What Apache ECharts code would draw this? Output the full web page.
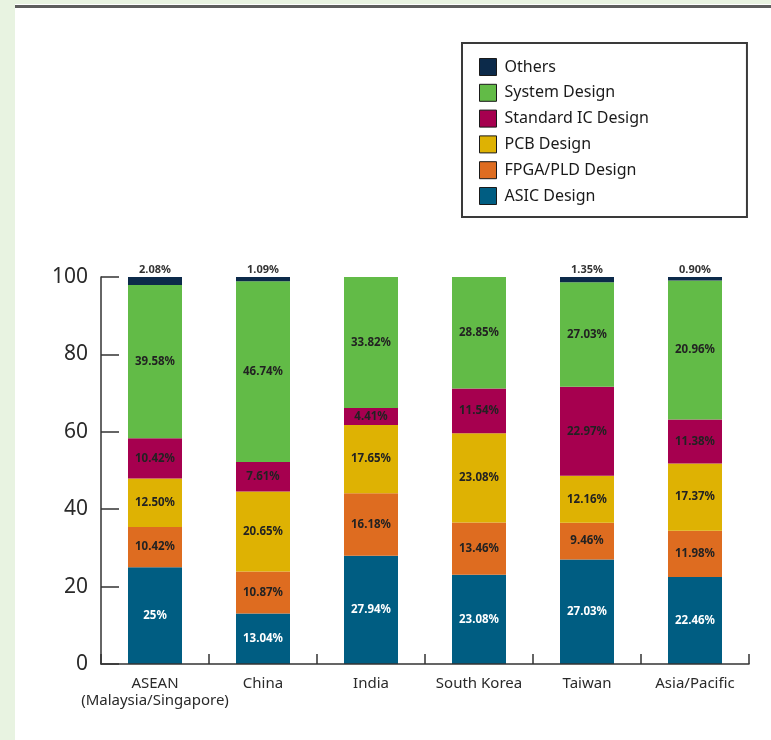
<!DOCTYPE html>
<html>
<head>
<meta charset="utf-8">
<script src="https://cdn.jsdelivr.net/npm/echarts@6/dist/echarts.min.js"></script>
<style>
  html, body { margin: 0; padding: 0; background: #e8f3e1; }
  #chart { width: 771px; height: 740px; }
</style>
</head>
<body>
<div id="chart"></div>
<script>
// regions along the x axis
const regions = ['ASEAN\n(Malaysia/Singapore)', 'China', 'India', 'South Korea', 'Taiwan', 'Asia/Pacific'];

// shares per design type (percent), bottom to top of each stack
const asicDesign = [25, 13.04, 27.94, 23.08, 27.03, 22.46];
const fpgaDesign = [10.42, 10.87, 16.18, 13.46, 9.46, 11.98];
const pcbDesign = [12.50, 20.65, 17.65, 23.08, 12.16, 17.37];
const stdIcDesign = [10.42, 7.61, 4.41, 11.54, 22.97, 11.38];
const systemDesign = [39.58, 46.74, 33.82, 28.85, 27.03, 35.91];
const others = [2.08, 1.09, 0, 0, 1.35, 0.90];

// system design labels as printed on the chart (the Asia/Pacific one differs from its bar)
const systemPrinted = ['39.58%', '46.74%', '33.82%', '28.85%', '27.03%', '20.96%'];

const yTicks = [0, 20, 40, 60, 80, 100];

const FONT = '"Noto Sans", "DejaVu Sans", sans-serif';

const fmt = (v) => (Number.isInteger(v) ? v : v.toFixed(2)) + '%';

function stackSeries(name, data, color, textColor, formatter) {
  return {
    name,
    type: 'bar',
    stack: 'total',
    data,
    barWidth: 54,
    itemStyle: { color },
    label: {
      show: true,
      position: 'inside',
      color: textColor,
      fontFamily: FONT,
      fontWeight: 'bold',
      fontSize: 11.5,
      formatter: formatter || ((p) => (p.value ? fmt(p.value) : '')),
    },
  };
}

const chart = echarts.init(document.getElementById('chart'), null, { renderer: 'canvas' });

chart.setOption({
  backgroundColor: '#e8f3e1',
  animation: false,
  textStyle: { fontFamily: FONT },
  graphic: [
    { type: 'rect', shape: { x: 15, y: 4, width: 756, height: 736 }, style: { fill: '#ffffff' }, z: -10 },
    { type: 'rect', shape: { x: 15, y: 5, width: 756, height: 3 }, style: { fill: '#5e5e5e' }, z: -9 },
  ],
  legend: {
    orient: 'vertical',
    left: 462,
    top: 43,
    padding: [15, 98, 12, 17],
    itemWidth: 17,
    itemHeight: 17,
    itemGap: 7.8,
    backgroundColor: '#ffffff',
    borderColor: '#3a3a3a',
    borderWidth: 2,
    borderRadius: 0,
    icon: 'rect',
    itemStyle: { borderColor: '#1a1a1a', borderWidth: 1 },
    textStyle: { fontFamily: FONT, fontSize: 16, color: '#1a1a1a', padding: [0, 0, 0, 3] },
    data: ['Others', 'System Design', 'Standard IC Design', 'PCB Design', 'FPGA/PLD Design', 'ASIC Design'],
  },
  grid: { left: 101, right: 22, top: 277, bottom: 76 },
  xAxis: {
    type: 'category',
    data: regions,
    z: 10,
    axisLine: { show: true, lineStyle: { color: '#333', width: 1.5 } },
    axisTick: { show: true, inside: true, interval: 0, length: 10, lineStyle: { color: '#333', width: 1.5 } },
    axisLabel: { interval: 0, color: '#2a2a2a', fontFamily: FONT, fontSize: 15, lineHeight: 17, margin: 11 },
  },
  yAxis: {
    type: 'value',
    min: yTicks[0],
    max: yTicks[yTicks.length - 1],
    interval: 20,
    axisLine: { show: true, lineStyle: { color: '#333', width: 1.5 } },
    axisTick: { show: true, inside: true, length: 18, lineStyle: { color: '#333', width: 1.5 } },
    axisLabel: { color: '#2a2a2a', fontFamily: FONT, fontSize: 21, margin: 13 },
    splitLine: { show: false },
  },
  series: [
    stackSeries('ASIC Design', asicDesign, '#005d82', '#ffffff'),
    stackSeries('FPGA/PLD Design', fpgaDesign, '#de6c20', '#222'),
    stackSeries('PCB Design', pcbDesign, '#deb203', '#222'),
    stackSeries('Standard IC Design', stdIcDesign, '#a6004f', '#222'),
    stackSeries('System Design', systemDesign, '#62bb47', '#222', (p) => systemPrinted[p.dataIndex]),
    Object.assign(stackSeries('Others', others, '#0c2a4a', '#333'), {
      label: {
        show: true,
        position: 'top',
        distance: 2,
        color: '#333',
        fontFamily: FONT,
        fontWeight: 'bold',
        fontSize: 11,
        formatter: (p) => (p.value ? fmt(p.value) : ''),
      },
    }),
  ],
});
</script>
</body>
</html>
